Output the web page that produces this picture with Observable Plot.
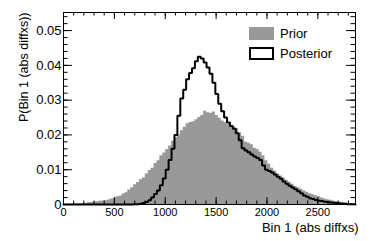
<!DOCTYPE html>
<html><head><meta charset="utf-8">
<script src="https://cdn.jsdelivr.net/npm/d3@7"></script>
<script src="https://cdn.jsdelivr.net/npm/@observablehq/plot@0.6"></script>
<style>
body{margin:0;background:#fff;font-family:"Liberation Sans",Arial,Helvetica,sans-serif;}
#wrap{position:relative;width:374px;height:241px;}
#wrap svg{font-family:"Liberation Sans",Arial,Helvetica,sans-serif;}
.sw{position:absolute;box-sizing:border-box;width:25px;height:13px;}
.lt{position:absolute;font-size:13px;line-height:13px;color:#000;white-space:nowrap;}
</style></head>
<body><div id="wrap"></div>
<script>
// ---- data ----
const xMin = 0, xMax = 2870, nBins = 100;
const prior = [
0.0001,0.0001,0.0001,0.0002,0.0002,0.0002,0.0003,0.0003,0.0005,0.0006,
0.0007,0.0008,0.0009,0.0010,0.0011,0.0013,0.0016,0.0018,0.0022,0.0024,
0.0030,0.0034,0.0042,0.0048,0.0057,0.0063,0.0071,0.0076,0.0088,0.0098,
0.0104,0.0118,0.0126,0.0140,0.0148,0.0158,0.0168,0.0182,0.0192,0.0200,
0.0212,0.0222,0.0232,0.0236,0.0238,0.0244,0.0250,0.0256,0.0268,0.0264,
0.0262,0.0266,0.0256,0.0248,0.0240,0.0236,0.0230,0.0226,0.0222,0.0218,
0.0206,0.0196,0.0180,0.0176,0.0172,0.0162,0.0158,0.0150,0.0140,0.0126,
0.0116,0.0104,0.0096,0.0088,0.0082,0.0076,0.0070,0.0064,0.0058,0.0052,
0.0048,0.0044,0.0039,0.0035,0.0031,0.0028,0.0025,0.0022,0.0019,0.0016,
0.0014,0.0012,0.0010,0.0008,0.0007,0.0006,0.0004,0.0003,0.0003,0.0002];
const posterior = [
0,0,0,0,0,0,0,0,0,0,
0,0,0,0,0,0,0,0,0,0,
0,0,0,0.0000,0.0001,0.0001,0.0002,0.0004,0.0007,0.0012,
0.0020,0.0030,0.0040,0.0055,0.0075,0.0100,0.0128,0.0160,0.0200,0.0255,
0.0305,0.0330,0.0360,0.0378,0.0392,0.0412,0.0425,0.0420,0.0408,0.0394,
0.0376,0.0350,0.0318,0.0290,0.0268,0.0250,0.0236,0.0226,0.0218,0.0205,
0.0185,0.0162,0.0155,0.0150,0.0144,0.0138,0.0134,0.0128,0.0112,0.0100,
0.0096,0.0092,0.0086,0.0080,0.0074,0.0066,0.0060,0.0054,0.0049,0.0044,
0.0038,0.0032,0.0026,0.0022,0.0018,0.0016,0.0013,0.0011,0.0010,0.0008,
0.0007,0.0006,0.0005,0.0004,0.0003,0.0002,0.0002,0.0001,0.0001,0.0001];
const xMajor = [0,500,1000,1500,2000,2500];
const xMinor = d3.range(0, 2801, 100);
const yMajor = [0,0.01,0.02,0.03,0.04,0.05];
const yMinor = d3.range(0, 0.0549, 0.002);
const xTitle = "Bin 1 (abs diffxs)";
const yTitle = "P(Bin 1 (abs diffxs))";
const legendLabels = ["Prior","Posterior"];

// ---- build step outlines ----
const bw = (xMax - xMin) / nBins;
function steps(vals){
  const pts = [{x:xMin,y:0}];
  vals.forEach((v,i)=>{ pts.push({x:xMin+i*bw,y:v}); pts.push({x:xMin+(i+1)*bw,y:v}); });
  pts.push({x:xMax,y:0});
  return pts;
}
const priorPts = steps(prior), postPts = steps(posterior);

const W = 374, H = 241, mL = 63, mR = 19, mT = 12, mB = 37;
const iW = W - mL - mR, iH = H - mT - mB;

const chart = Plot.plot({
  width: W, height: H,
  marginLeft: mL, marginRight: mR, marginTop: mT, marginBottom: mB,
  style: {fontFamily: '"Liberation Sans",Arial,sans-serif', background: "#fff", overflow: "visible"},
  x: {domain: [xMin, xMax]},
  y: {domain: [0, 0.0552]},
  marks: [
    Plot.area(priorPts, {x1: "x", y1: 0, y2: "y", fill: "#999999", curve: "linear"}),
    Plot.line(postPts, {x: "x", y: "y", stroke: "#000", strokeWidth: 2, curve: "linear", strokeLinejoin: "miter"}),
    Plot.frame({stroke: "#000", strokeWidth: 1}),
    // inward ticks, all four sides
    Plot.ruleX(xMajor, {x: d => d, insetTop: iH - 7, stroke: "#000"}),
    Plot.ruleX(xMinor, {x: d => d, insetTop: iH - 3.5, stroke: "#000"}),
    Plot.ruleX(xMajor, {x: d => d, insetBottom: iH - 7, stroke: "#000"}),
    Plot.ruleX(xMinor, {x: d => d, insetBottom: iH - 3.5, stroke: "#000"}),
    Plot.ruleY(yMajor, {y: d => d, insetRight: iW - 9, stroke: "#000"}),
    Plot.ruleY(yMinor, {y: d => d, insetRight: iW - 4.5, stroke: "#000"}),
    Plot.ruleY(yMajor, {y: d => d, insetLeft: iW - 9, stroke: "#000"}),
    Plot.ruleY(yMinor, {y: d => d, insetLeft: iW - 4.5, stroke: "#000"}),
    Plot.axisX(xMajor, {tickSize: 0, tickPadding: 4, fontSize: 11, tickFormat: d => String(d), label: null, fill: "#000"}),
    Plot.axisY(yMajor, {tickSize: 0, tickPadding: 2, fontSize: 13, tickFormat: d => d === 0 ? "0" : d.toFixed(2), label: null, fill: "#000"}),
    Plot.text([xTitle], {text: d => d, frameAnchor: "bottom-right", textAnchor: "end", dx: 3, dy: 27, fontSize: 13, fill: "#000"}),
    Plot.text([yTitle], {text: d => d, frameAnchor: "top-left", textAnchor: "end", rotate: -90, dx: -44, dy: 0, fontSize: 12.5, fill: "#000"})
  ]
});
const wrap = document.getElementById("wrap");
wrap.appendChild(chart);

// ---- legend (HTML overlay) ----
const legStyles = [
  {background: "#999999", border: "none"},
  {background: "#fff", border: "2px solid #000"}
];
legendLabels.forEach((lab, i) => {
  const top = 27 + i * 20;
  const sw = document.createElement("div");
  sw.className = "sw";
  sw.style.left = "249px"; sw.style.top = top + "px";
  sw.style.background = legStyles[i].background; sw.style.border = legStyles[i].border;
  wrap.appendChild(sw);
  const t = document.createElement("div");
  t.className = "lt";
  t.style.left = "280px"; t.style.top = (top) + "px";
  t.textContent = lab;
  wrap.appendChild(t);
});
</script>
</body></html>
